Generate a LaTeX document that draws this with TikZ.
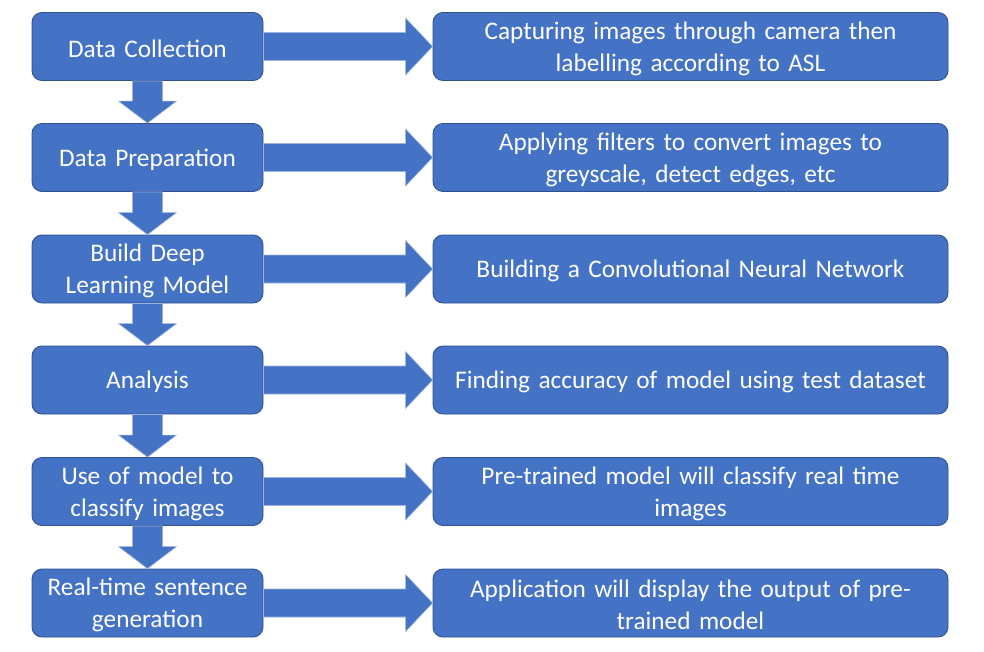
\documentclass[tikz,border=0pt]{standalone}
\usepackage{fontspec}
\setmainfont{Carlito}
\usetikzlibrary{calc}
\definecolor{boxfill}{HTML}{4472C4}
\definecolor{boxline}{HTML}{2F528F}
\definecolor{arrline}{HTML}{9DB3DE}
\tikzset{
  box/.style={draw=boxline, line width=0.9pt, fill=boxfill, rounded corners=10pt,
    minimum height=68pt, inner sep=0pt},
  txt/.style={text=white, align=center, inner sep=0pt, yshift=-2pt,
    font=\fontsize{25.3pt}{32pt}\selectfont},
  ltxt/.style={txt, text width=227pt},
  rtxt/.style={txt, text width=509pt},
  leftbox/.style={box, minimum width=231pt},
  rightbox/.style={box, minimum width=515pt},
  arr/.style={fill=boxfill, draw=arrline, line width=0.6pt},
}
\newcommand{\harrow}[2]{%
  \draw[arr] ($(#1.east)+(0,14pt)$) -- ($(#2.west)+(-27pt,14pt)$) -- ($(#2.west)+(-27pt,28.5pt)$)
    -- (#2.west) -- ($(#2.west)+(-27pt,-28.5pt)$) -- ($(#2.west)+(-27pt,-14pt)$)
    -- ($(#1.east)+(0,-14pt)$) -- cycle;}
\newcommand{\varrow}[2]{%
  \draw[arr] ($(#1.south)+(-15pt,0)$) -- ($(#2.north)+(-15pt,22pt)$) -- ($(#2.north)+(-29pt,22pt)$)
    -- (#2.north) -- ($(#2.north)+(29pt,22pt)$) -- ($(#2.north)+(15pt,22pt)$)
    -- ($(#1.south)+(15pt,0)$) -- cycle;}
\begin{document}
\begin{tikzpicture}[x=1pt,y=-1pt]
\useasboundingbox[fill=white] (0,0) rectangle (984,651);
\node[leftbox] (l1) at (147.5,46.5) {};
\node[leftbox] (l2) at (147.5,157.5) {};
\node[leftbox] (l3) at (147.5,269) {};
\node[leftbox] (l4) at (147.5,380) {};
\node[leftbox] (l5) at (147.5,491.5) {};
\node[leftbox] (l6) at (147.5,603) {};
\node[rightbox] (r1) at (690.5,46.5) {};
\node[rightbox] (r2) at (690.5,157.5) {};
\node[rightbox] (r3) at (690.5,269) {};
\node[rightbox] (r4) at (690.5,380) {};
\node[rightbox] (r5) at (690.5,491.5) {};
\node[rightbox] (r6) at (690.5,603) {};
\node[ltxt] (tl1) at (l1) {Data Collection};
\node[ltxt] (tl2) at (l2) {Data Preparation};
\node[ltxt] (tl3) at (l3) {Build Deep\\Learning Model};
\node[ltxt] (tl4) at (l4) {Analysis};
\node[ltxt] (tl5) at (l5) {Use of model to\\classify images};
\node[ltxt] (tl6) at (l6) {Real-time sentence\\generation};
\node[rtxt] (tr1) at (r1) {Capturing images through camera then\\labelling according to ASL};
\node[rtxt] (tr2) at (r2) {Applying filters to convert images to\\greyscale, detect edges, etc};
\node[rtxt] (tr3) at (r3) {Building a Convolutional Neural Network};
\node[rtxt] (tr4) at (r4) {Finding accuracy of model using test dataset};
\node[rtxt] (tr5) at (r5) {Pre-trained model will classify real time\\images};
\node[rtxt] (tr6) at (r6) {Application will display the output of pre-\\trained model};
\harrow{l1}{r1}
\harrow{l2}{r2}
\harrow{l3}{r3}
\harrow{l4}{r4}
\harrow{l5}{r5}
\harrow{l6}{r6}
\varrow{l1}{l2}
\varrow{l2}{l3}
\varrow{l3}{l4}
\varrow{l4}{l5}
\varrow{l5}{l6}
\end{tikzpicture}
\end{document}
